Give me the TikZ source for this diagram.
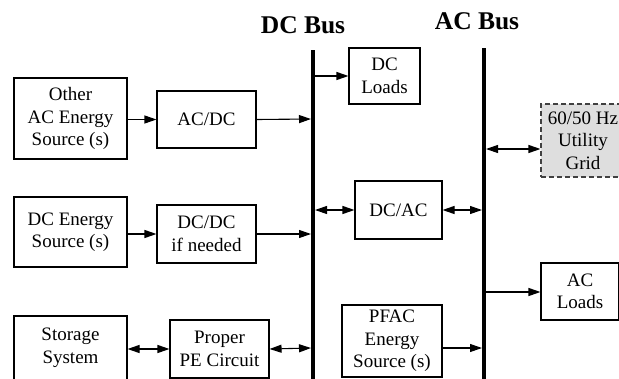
\documentclass[tikz,border=0pt]{standalone}
\usepackage{fontspec}
\setmainfont{Liberation Serif}
\usetikzlibrary{arrows.meta}
\begin{document}
\begin{tikzpicture}[x=1pt,y=-1pt,
  box/.style={draw,line width=1.1pt,align=center,inner sep=0pt,
    font=\fontsize{19}{22.5}\selectfont},
  gridbox/.style={box,dash pattern=on 5pt off 3pt,fill=black!13,draw=black!75},
  bus/.style={line width=4pt},
  conn/.style={line width=1.1pt,-{Triangle[length=12pt,width=8pt]}},
  bconn/.style={line width=1.1pt,{Triangle[length=12pt,width=8pt]}-{Triangle[length=12pt,width=8pt]}},
  lbl/.style={font=\bfseries\fontsize{25.5}{28}\selectfont,inner sep=0pt}]
\useasboundingbox (0,0) rectangle (619,378);
\clip (0,0) rectangle (619,378);
% buses
\coordinate (dctop) at (313,50);
\coordinate (dcbot) at (313,390);
\coordinate (actop) at (484,48);
\coordinate (acbot) at (484,390);
\draw[bus] (dctop) -- (dcbot);
\draw[bus] (actop) -- (acbot);
\node[lbl] (dclbl) at (303,25) {DC Bus};
\node[lbl] (aclbl) at (477,21) {AC Bus};
% boxes
\node[box,minimum width=113pt,minimum height=81pt] (other) at (70.5,118.5) {Other\\AC Energy\\Source (s)};
\node[box,minimum width=99pt,minimum height=57pt] (acdc) at (206.5,119.5) {AC/DC};
\node[box,minimum width=113pt,minimum height=70pt] (dce) at (70.5,232) {DC Energy\\Source (s)};
\node[box,minimum width=99pt,minimum height=58pt] (dcdc) at (206.5,234) {DC/DC\\if needed};
\node[box,minimum width=113pt,minimum height=64pt] (stor) at (70.5,348) {Storage\\System};
\node[box,minimum width=99pt,minimum height=58pt] (pe) at (219.5,349) {Proper\\PE Circuit};
\node[box,minimum width=71pt,minimum height=56pt] (dcl) at (384.5,76) {DC\\Loads};
\node[box,minimum width=87pt,minimum height=58pt] (dcac) at (398.5,210) {DC/AC};
\node[box,minimum width=100pt,minimum height=72pt] (pfac) at (392,341) {PFAC\\Energy\\Source (s)};
\node[gridbox,minimum width=84pt,minimum height=73pt] (grid) at (583,140.5) {60/50 Hz\\Utility\\Grid};
\node[box,minimum width=78pt,minimum height=57pt] (acl) at (580,291.5) {AC\\Loads};
% bus tap points
\coordinate (b1) at (311,119);
\coordinate (b2) at (311,234);
\coordinate (b3) at (311,348);
\coordinate (b4) at (315,76);
\coordinate (b5) at (315,210);
\coordinate (a1) at (482,210);
\coordinate (a2) at (482,348);
\coordinate (a3) at (486,149);
\coordinate (a4) at (486,292);
% connectors
\draw[conn] (other.east |- acdc) -- (acdc.west);
\draw[conn] (acdc.east) -- (b1);
\draw[conn] (dce.east |- dcdc) -- (dcdc.west);
\draw[conn] (dcdc.east) -- (b2);
\draw[bconn] (stor.east |- pe) -- (pe.west);
\draw[bconn] (pe.east) -- (b3);
\draw[conn] (b4) -- (dcl.west |- b4);
\draw[bconn] (b5) -- (dcac.west);
\draw[bconn] (dcac.east) -- (a1);
\draw[conn] (pfac.east |- a2) -- (a2);
\draw[bconn] (a3) -- (grid.west |- a3);
\draw[conn] (a4) -- (acl.west |- a4);
\end{tikzpicture}
\end{document}
